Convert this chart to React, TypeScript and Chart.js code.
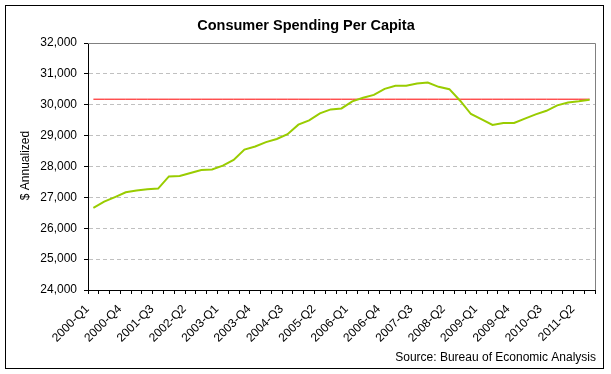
import { useEffect, useRef } from "react";
import { Chart, registerables } from "chart.js";

Chart.register(...registerables);

const quarters = [
  "2000-Q1", "2000-Q2", "2000-Q3", "2000-Q4",
  "2001-Q1", "2001-Q2", "2001-Q3", "2001-Q4",
  "2002-Q1", "2002-Q2", "2002-Q3", "2002-Q4",
  "2003-Q1", "2003-Q2", "2003-Q3", "2003-Q4",
  "2004-Q1", "2004-Q2", "2004-Q3", "2004-Q4",
  "2005-Q1", "2005-Q2", "2005-Q3", "2005-Q4",
  "2006-Q1", "2006-Q2", "2006-Q3", "2006-Q4",
  "2007-Q1", "2007-Q2", "2007-Q3", "2007-Q4",
  "2008-Q1", "2008-Q2", "2008-Q3", "2008-Q4",
  "2009-Q1", "2009-Q2", "2009-Q3", "2009-Q4",
  "2010-Q1", "2010-Q2", "2010-Q3", "2010-Q4",
  "2011-Q1", "2011-Q2", "2011-Q3",
];

const spending = [
  26660, 26860, 27010, 27165,
  27220, 27260, 27285, 27680,
  27690, 27790, 27885, 27905,
  28030, 28215, 28550, 28650,
  28790, 28890, 29045, 29355,
  29495, 29720, 29850, 29880,
  30110, 30225, 30320, 30515,
  30615, 30615, 30690, 30720,
  30580, 30505, 30130, 29700,
  29525, 29345, 29410, 29410,
  29550, 29690, 29805, 29980,
  30075, 30110, 30165,
];

const referenceLevel = 30180;

const yMin = 24000;
const yMax = 32000;
const yStep = 1000;
const labelEvery = 3;

const titleText = "Consumer Spending Per Capita";
const yTitleText = "$ Annualized";
const sourceText = "Source: Bureau of Economic Analysis";

const FONT = '"Liberation Sans", Arial, sans-serif';

export default function App() {
  const canvasRef = useRef<HTMLCanvasElement>(null);

  useEffect(() => {
    document.body.style.margin = "0";
    const canvas = canvasRef.current;
    if (!canvas) return;

    const decor = {
      id: "decor",
      beforeDraw(chart: any) {
        const ctx = chart.ctx;
        ctx.save();
        ctx.fillStyle = "#ffffff";
        ctx.fillRect(0, 0, chart.width, chart.height);
        ctx.restore();
      },
      beforeDatasetsDraw(chart: any) {
        const ctx = chart.ctx;
        const a = chart.chartArea;
        ctx.save();
        ctx.strokeStyle = "#808080";
        ctx.lineWidth = 1;
        ctx.beginPath();
        ctx.moveTo(Math.round(a.left), Math.round(a.top) + 0.5);
        ctx.lineTo(Math.round(a.right) + 0.5, Math.round(a.top) + 0.5);
        ctx.lineTo(Math.round(a.right) + 0.5, Math.round(a.bottom));
        ctx.stroke();
        ctx.restore();
      },
      afterDraw(chart: any) {
        const ctx = chart.ctx;
        const a = chart.chartArea;
        ctx.save();
        ctx.strokeStyle = "#000000";
        ctx.lineWidth = 1;
        ctx.strokeRect(5.5, 5.5, 598, 363);

        ctx.fillStyle = "#000000";
        ctx.font = `bold 14.5px ${FONT}`;
        ctx.textAlign = "center";
        ctx.textBaseline = "alphabetic";
        ctx.fillText(titleText, 306, 30);

        ctx.font = `12px ${FONT}`;
        ctx.textAlign = "right";
        ctx.fillText(sourceText, 596, 361);

        ctx.translate(26, (a.top + a.bottom) / 2 - 1);
        ctx.rotate(-Math.PI / 2);
        ctx.textAlign = "center";
        ctx.textBaseline = "middle";
        ctx.fillText(yTitleText, 0, 0);
        ctx.restore();
      },
    };

    const chart = new Chart(canvas, {
      type: "line",
      data: {
        labels: quarters,
        datasets: [
          {
            label: "Consumer Spending Per Capita",
            data: spending,
            borderColor: "#99CC00",
            borderWidth: 2,
            pointRadius: 0,
            tension: 0,
            fill: false,
          },
          {
            label: "Reference",
            data: quarters.map(() => referenceLevel),
            borderColor: "#FF0000",
            borderWidth: 1,
            pointRadius: 0,
            tension: 0,
            fill: false,
          },
        ],
      },
      options: {
        responsive: false,
        animation: false,
        devicePixelRatio: 1,
        layout: { padding: { left: 0, right: 16, top: 43, bottom: 0 } },
        plugins: {
          legend: { display: false },
          tooltip: { enabled: false },
          title: { display: false },
        },
        scales: {
          x: {
            type: "category",
            offset: true,
            grid: {
              display: true,
              offset: true,
              drawOnChartArea: false,
              drawTicks: true,
              tickLength: 4,
              tickColor: "#000000",
              color: "#000000",
            },
            border: { display: true, color: "#000000", width: 1 },
            ticks: {
              autoSkip: false,
              maxRotation: 45,
              minRotation: 45,
              padding: 8,
              labelOffset: -6,
              color: "#000000",
              font: { family: FONT, size: 12 },
              callback: (_v: any, i: number) => (i % labelEvery === 0 ? quarters[i] : ""),
            },
            afterFit: (s: any) => {
              s.height = 84;
            },
          },
          y: {
            min: yMin,
            max: yMax,
            ticks: {
              stepSize: yStep,
              padding: 7,
              color: "#000000",
              font: { family: FONT, size: 12 },
              callback: (v: any) => Number(v).toLocaleString("en-US"),
            },
            grid: {
              color: "#C0C0C0",
              tickColor: "#000000",
              tickLength: 4,
              tickBorderDash: [],
              lineWidth: 1,
            },
            border: { display: true, color: "#000000", width: 1, dash: [4, 3] },
            afterFit: (s: any) => {
              s.width = 88;
            },
          },
        },
      },
      plugins: [decor],
    });

    return () => chart.destroy();
  }, []);

  return (
    <div style={{ width: 611, height: 374, position: "relative" }}>
      <canvas ref={canvasRef} width={611} height={374} style={{ display: "block" }} />
    </div>
  );
}
